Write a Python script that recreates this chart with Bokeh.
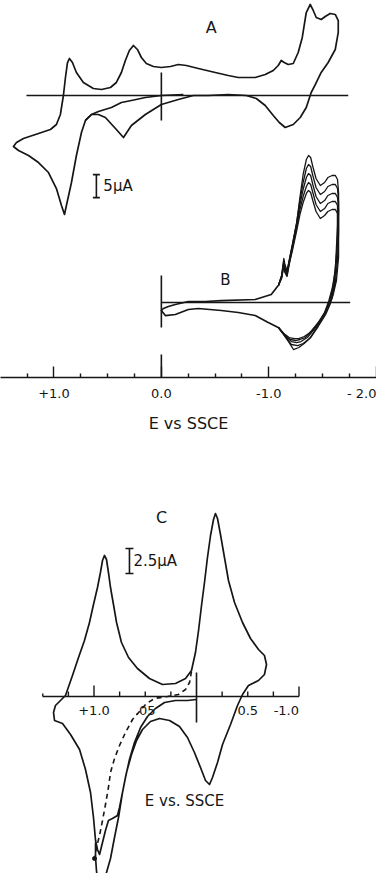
from bokeh.plotting import figure
from bokeh.models import Range1d, LinearAxis, FixedTicker
from bokeh.layouts import column
from bokeh.embed import file_html
from bokeh.resources import INLINE
from bokeh.core.properties import value

# ------------------------------------------------------------------
# DATA  (E in V vs SSCE, current in microampere; cathodic current up)
# ------------------------------------------------------------------
# Panel A : full cyclic voltammogram
A_loop_E = [-0.298, -0.158, 0.0, 0.149, 0.279, 0.353, 0.419, 0.521, 0.586, 0.651,
            0.707, 0.744, 0.791, 0.837, 0.884, 0.902, 0.930, 0.977, 1.051, 1.144,
            1.237, 1.330, 1.377, 1.349, 1.284, 1.144, 1.033, 0.977, 0.940, 0.912,
            0.893, 0.874, 0.856, 0.828, 0.791, 0.726, 0.633, 0.558, 0.474, 0.419,
            0.372, 0.335, 0.298, 0.260, 0.223, 0.186, 0.140, 0.074, 0.0, -0.084,
            -0.158, -0.233, -0.344, -0.502, -0.623, -0.716, -0.874, -0.967, -1.042, -1.088,
            -1.116, -1.144, -1.181, -1.228, -1.274, -1.312, -1.349, -1.386, -1.414, -1.442,
            -1.488, -1.526, -1.572, -1.619, -1.647, -1.647, -1.619, -1.553, -1.488, -1.433,
            -1.395, -1.349, -1.293, -1.228, -1.153, -1.098, -1.042, -0.967, -0.884, -0.791,
            -0.623, -0.437, -0.298]
A_loop_I = [0.0, -0.87, -1.96, -4.13, -6.52, -9.13, -7.39, -4.78, -4.13, -4.13,
            -5.43, -8.04, -13.04, -18.91, -23.91, -25.87, -23.91, -20.22, -16.74, -14.57,
            -13.04, -11.96, -11.09, -10.22, -9.35, -8.26, -7.39, -6.30, -4.13, 0.0,
            3.91, 7.17, 8.04, 7.17, 5.0, 2.83, 1.52, 1.30, 1.74, 2.83,
            5.0, 7.61, 9.78, 10.87, 10.0, 8.26, 6.96, 6.30, 6.09, 6.30,
            6.74, 6.52, 5.87, 5.0, 4.35, 3.91, 3.91, 4.57, 5.43, 6.52,
            7.61, 7.17, 6.74, 6.96, 9.35, 12.61, 18.04, 19.78, 18.48, 16.96,
            16.52, 17.17, 17.83, 17.61, 16.30, 13.70, 10.0, 7.17, 5.0, 2.39,
            0.65, -2.61, -4.78, -6.30, -6.96, -5.87, -4.35, -2.17, -0.65, 0.0,
            0.22, 0.0, 0.0]
A_inner_E = [-0.205, 0.0, 0.149, 0.279, 0.372, 0.465, 0.586, 0.651, 0.707]
A_inner_I = [0.22, 0.0, -0.43, -1.09, -1.52, -2.61, -3.48, -4.13, -5.43]
A_baseline_E = [1.256, -1.740]
A_zero_mark_I = [5.0, -5.43]

# Panel B : five successive scans
B_common_E = [-1.088, -0.995, -0.874, -0.716, -0.558, -0.344, -0.251, -0.130, -0.037, 0.0,
              -0.019, -0.065, -0.130, -0.251, -0.409, -0.558, -0.874, -1.023, -1.088]
B_common_I = [-5.43, -4.35, -2.83, -2.17, -1.74, -1.30, -1.52, -2.61, -2.83, -1.74,
              -1.30, -0.87, -0.43, 0.22, 0.22, 0.43, 0.65, 1.74, 3.70]
B_scan1_E = [-1.09, -1.12, -1.14, -1.15, -1.17, -1.19, -1.22, -1.26, -1.29, -1.32,
             -1.35, -1.37, -1.39, -1.41, -1.44, -1.48, -1.52, -1.55, -1.59, -1.62,
             -1.64, -1.65, -1.65, -1.65, -1.63, -1.60, -1.57, -1.53, -1.46, -1.39,
             -1.33, -1.28, -1.23, -1.19, -1.14, -1.09]
B_scan1_I = [3.70, 5.87, 9.57, 8.26, 6.96, 9.13, 12.61, 17.39, 22.83, 27.83,
             31.09, 31.96, 31.52, 29.57, 26.96, 25.43, 26.09, 27.17, 27.61, 27.61,
             26.74, 23.91, 16.30, 9.78, 4.78, 1.74, -0.43, -2.61, -5.22, -7.61,
             -8.91, -9.78, -10.22, -8.70, -6.96, -5.43]
B_scan2_E = [-1.09, -1.12, -1.14, -1.15, -1.17, -1.19, -1.22, -1.26, -1.29, -1.32,
             -1.35, -1.37, -1.39, -1.41, -1.44, -1.48, -1.52, -1.55, -1.59, -1.62,
             -1.64, -1.65, -1.65, -1.64, -1.62, -1.59, -1.55, -1.50, -1.44, -1.38,
             -1.32, -1.27, -1.21, -1.16, -1.09]
B_scan2_I = [3.70, 5.87, 9.13, 7.83, 6.52, 9.13, 12.61, 17.39, 22.17, 26.09,
             29.13, 30.00, 29.57, 27.61, 25.00, 23.48, 24.13, 25.22, 25.65, 25.65,
             24.78, 21.74, 15.22, 9.13, 4.35, 1.09, -1.30, -3.48, -5.65, -7.83,
             -8.91, -9.35, -9.13, -7.61, -5.43]
B_scan3_E = [-1.09, -1.12, -1.14, -1.15, -1.17, -1.19, -1.22, -1.26, -1.29, -1.32,
             -1.35, -1.37, -1.39, -1.41, -1.44, -1.48, -1.52, -1.55, -1.59, -1.62,
             -1.64, -1.65, -1.64, -1.63, -1.61, -1.58, -1.53, -1.48, -1.42, -1.36,
             -1.30, -1.26, -1.21, -1.16, -1.09]
B_scan3_I = [3.70, 5.65, 8.70, 7.39, 6.30, 8.70, 12.17, 16.96, 21.30, 24.57,
             27.17, 28.04, 27.61, 25.65, 23.04, 21.52, 22.17, 23.26, 23.70, 23.70,
             22.83, 20.00, 14.13, 8.70, 3.91, 0.87, -1.74, -3.91, -5.87, -7.61,
             -8.48, -8.70, -8.48, -7.39, -5.43]
B_scan4_E = [-1.09, -1.12, -1.14, -1.15, -1.17, -1.19, -1.22, -1.26, -1.29, -1.32,
             -1.35, -1.37, -1.39, -1.41, -1.44, -1.48, -1.52, -1.55, -1.59, -1.62,
             -1.64, -1.64, -1.64, -1.62, -1.60, -1.57, -1.53, -1.47, -1.40, -1.34,
             -1.29, -1.25, -1.20, -1.15, -1.09]
B_scan4_I = [3.70, 5.43, 8.26, 6.96, 5.87, 8.48, 11.74, 16.30, 20.22, 23.04,
             25.22, 26.09, 25.65, 23.91, 21.30, 19.78, 20.43, 21.52, 21.96, 21.96,
             21.09, 18.48, 13.04, 7.83, 3.48, 0.65, -1.96, -4.13, -6.09, -7.61,
             -8.04, -8.26, -8.04, -7.17, -5.43]
B_scan5_E = [-1.09, -1.12, -1.14, -1.15, -1.17, -1.19, -1.22, -1.26, -1.29, -1.32,
             -1.35, -1.37, -1.39, -1.41, -1.44, -1.48, -1.52, -1.55, -1.59, -1.62,
             -1.64, -1.64, -1.63, -1.62, -1.59, -1.56, -1.52, -1.46, -1.40, -1.33,
             -1.28, -1.24, -1.19, -1.14, -1.09]
B_scan5_I = [3.70, 5.22, 7.83, 6.52, 5.65, 8.26, 11.30, 15.65, 19.13, 21.74,
             23.70, 24.35, 23.91, 22.17, 19.78, 18.26, 18.91, 19.78, 20.22, 20.22,
             19.35, 16.96, 11.96, 6.96, 3.04, 0.43, -2.17, -4.35, -6.30, -7.39,
             -7.83, -7.83, -7.61, -6.74, -5.43]
B_baseline_E = [0.0, -1.758]
B_zero_mark_I = [5.87, -5.43]

# Potential axis shared by A and B
AB_major_ticks = [1.0, 0.0, -1.0, -2.0]
AB_minor_ticks = [1.5, 1.25, 0.75, 0.5, 0.25, -0.25, -0.5, -0.75, -1.25, -1.5, -1.75]
AB_tick_labels = ["+1.0", "0.0", "-1.0", "- 2.0"]

# Panel C
C_main_E = [0.0, 0.088, 0.205, 0.312, 0.400, 0.478, 0.546, 0.605, 0.654, 0.693,
            0.722, 0.751, 0.771, 0.820, 0.859, 0.888, 0.917, 0.946, 0.966, 0.985,
            1.005, 1.034, 1.083, 1.141, 1.229, 1.307, 1.385, 1.395, 1.376, 1.278,
            1.210, 1.151, 1.093, 1.044, 1.005, 0.966, 0.937, 0.917, 0.898, 0.878,
            0.859, 0.839, 0.810, 0.780, 0.732, 0.663, 0.576, 0.459, 0.332, 0.205,
            0.107, 0.049, 0.010, -0.020, -0.049, -0.078, -0.107, -0.137, -0.166, -0.185,
            -0.205, -0.234, -0.273, -0.312, -0.371, -0.449, -0.527, -0.605, -0.663, -0.683,
            -0.663, -0.605, -0.507, -0.449, -0.400, -0.332, -0.254, -0.205, -0.156, -0.127,
            -0.088, -0.039, 0.020, 0.088, 0.166, 0.263, 0.361, 0.449, 0.527, 0.585,
            0.634, 0.683, 0.722, 0.761, 0.800, 0.839, 0.878, 0.907]
C_main_I = [-0.3, -0.4, -0.4, -0.6, -1.2, -2.0, -3.1, -4.6, -6.3, -8.1,
            -9.6, -11.1, -11.9, -12.2, -12.4, -13.4, -14.6, -15.8, -15.3, -14.4,
            -12.1, -9.6, -7.3, -5.3, -3.8, -2.7, -2.4, -1.6, -0.9, 0.1,
            2.1, 3.9, 5.6, 7.4, 9.2, 10.9, 12.4, 13.6, 14.1, 13.7,
            12.4, 10.9, 9.2, 7.4, 5.4, 3.9, 2.8, 1.8, 1.2, 1.3,
            1.8, 2.6, 4.4, 6.6, 9.1, 11.4, 13.9, 16.1, 17.7, 18.3,
            17.8, 16.2, 13.9, 11.6, 9.4, 7.4, 5.8, 4.7, 4.1, 3.2,
            2.2, 1.6, 1.1, 0.2, -0.9, -2.8, -4.8, -6.6, -8.1, -8.8,
            -8.4, -7.1, -5.6, -4.1, -3.0, -2.4, -2.2, -2.5, -3.3, -4.4,
            -5.8, -7.6, -9.6, -12.1, -14.1, -16.2, -17.6, -19.1]
C_tail_E = [0.956, 0.976, 0.985, 0.985]
C_tail_I = [-19.1, -17.4, -16.1, -14.6]
C_dash_E = [0.049, 0.068, 0.107, 0.176, 0.283, 0.410, 0.488, 0.556, 0.624, 0.693,
            0.751, 0.800, 0.839, 0.859, 0.888, 0.917, 0.946, 0.976, 0.995]
C_dash_I = [2.5, 1.4, 0.7, 0.2, 0.0, -0.2, -0.7, -1.5, -2.3, -3.6,
            -4.9, -6.2, -7.6, -9.1, -10.8, -12.4, -13.9, -15.1, -16.2]
C_zero_mark_I = [2.4, -2.6]
C_ticks = [1.5, 1.25, 1.0, 0.75, 0.5, 0.25, -0.25, -0.5, -0.75, -1.0]
C_label_E = [1.0, 0.5, -0.5, -1.0]
C_labels = ["+1.0", ".05", "0.5", "-1.0"]

SCALE_A_UA = 5.0
SCALE_C_UA = 2.5

# ------------------------------------------------------------------
# STYLE
# ------------------------------------------------------------------
FONT = value("DejaVu Sans")
INK = "#161616"
LW = 1.7
AB_PX_PER_UA = 4.6     # pixel size of 1 uA in panels A/B
C_PX_PER_UA = 10.0     # pixel size of 1 uA in panel C

# ------------------------------------------------------------------
# TOP FIGURE : A and B on a common potential axis
# ------------------------------------------------------------------
p1 = figure(width=376, height=437,
            x_range=Range1d(1.4977, -2.003), y_range=Range1d(-16.30, 65.65),
            output_backend="svg", toolbar_location=None,
            x_axis_location=None, y_axis_location=None,
            min_border_left=0, min_border_right=0, min_border_top=0, min_border_bottom=60,
            outline_line_color=None, background_fill_color="white",
            border_fill_color="white")
p1.extra_y_ranges = {"A": Range1d(-61.30, 20.65)}
p1.grid.visible = False

# panel A
p1.line(A_baseline_E, [0, 0], y_range_name="A", line_color=INK, line_width=1.3)
p1.line([0, 0], A_zero_mark_I, y_range_name="A", line_color=INK, line_width=1.6)
p1.line(A_loop_E, A_loop_I, y_range_name="A", line_color=INK, line_width=LW,
        line_join="round")
p1.line(A_inner_E, A_inner_I, y_range_name="A", line_color=INK, line_width=LW,
        line_join="round")

# panel B
p1.line(B_baseline_E, [0, 0], line_color=INK, line_width=1.3)
p1.line([0, 0], B_zero_mark_I, line_color=INK, line_width=1.6)
p1.line(B_common_E, B_common_I, line_color=INK, line_width=LW, line_join="round")
for ex, iy in [(B_scan1_E, B_scan1_I), (B_scan2_E, B_scan2_I), (B_scan3_E, B_scan3_I),
               (B_scan4_E, B_scan4_I), (B_scan5_E, B_scan5_I)]:
    p1.line(ex, iy, line_color=INK, line_width=1.3, line_join="round")

# labels A / B and 5 uA bar
p1.text(x=[-0.465], y=[14.8], text=["A"], y_range_name="A", text_font=FONT,
        text_font_size="16px", text_align="center", text_baseline="middle", text_color=INK)
p1.text(x=[-0.595], y=[5.0], text=["B"], text_font=FONT,
        text_font_size="15px", text_align="center", text_baseline="middle", text_color=INK)
bar_top_A = -17.2
p1.segment(x0=[0.605], y0=[bar_top_A], x1=[0.605], y1=[bar_top_A - SCALE_A_UA],
           y_range_name="A", line_color=INK, line_width=1.6)
p1.scatter(x=[0.605, 0.605], y=[bar_top_A, bar_top_A - SCALE_A_UA], marker="dash",
           size=7, y_range_name="A", line_color=INK, line_width=1.6)
p1.text(x=[0.54], y=[bar_top_A - SCALE_A_UA / 2], text=["5\u00b5A"], y_range_name="A",
        text_font=FONT, text_font_size="15px", text_align="left",
        text_baseline="middle", text_color=INK)

# tall zero tick on the potential axis
p1.segment(x0=[0.0], y0=[-16.30], x1=[0.0], y1=[-16.30 + 23 / AB_PX_PER_UA],
           line_color=INK, line_width=1.6)

ax = LinearAxis(ticker=FixedTicker(ticks=AB_major_ticks, minor_ticks=AB_minor_ticks))
ax.major_label_overrides = {t: lab for t, lab in zip(AB_major_ticks, AB_tick_labels)}
ax.major_tick_in = 11
ax.major_tick_out = 0
ax.minor_tick_in = 4
ax.minor_tick_out = 0
ax.axis_line_color = INK
ax.axis_line_width = 1.4
ax.major_tick_line_color = INK
ax.major_tick_line_width = 1.4
ax.minor_tick_line_color = INK
ax.minor_tick_line_width = 1.4
ax.major_label_text_font = "DejaVu Sans"
ax.major_label_text_font_size = "13px"
ax.major_label_text_color = INK
ax.major_label_standoff = 8
ax.axis_label = "E vs SSCE"
ax.axis_label_text_font = "DejaVu Sans"
ax.axis_label_text_font_style = "normal"
ax.axis_label_text_font_size = "16px"
ax.axis_label_text_color = INK
ax.axis_label_standoff = 10
p1.add_layout(ax, "below")

# ------------------------------------------------------------------
# BOTTOM FIGURE : C with its own potential axis through the zero line
# ------------------------------------------------------------------
p2 = figure(width=376, height=436,
            x_range=Range1d(1.9122, -1.7561), y_range=Range1d(-17.7, 25.9),
            output_backend="svg", toolbar_location=None,
            x_axis_location=None, y_axis_location=None, min_border=0,
            outline_line_color=None, background_fill_color="white",
            border_fill_color="white")
p2.grid.visible = False

# axis line and ticks
p2.segment(x0=[C_ticks[0]], y0=[0], x1=[C_ticks[-1]], y1=[0], line_color=INK, line_width=1.4)
tick_px = []
for t in C_ticks:
    if t == 1.0:
        tick_px.append(11)
    elif t == C_ticks[-1]:
        tick_px.append(10)
    elif t == C_ticks[0]:
        tick_px.append(3)
    else:
        tick_px.append(5)
p2.segment(x0=C_ticks, y0=[0] * len(C_ticks), x1=C_ticks,
           y1=[px / C_PX_PER_UA for px in tick_px], line_color=INK, line_width=1.4)
p2.line([0, 0], C_zero_mark_I, line_color=INK, line_width=1.6)

p2.text(x=C_label_E[:-1], y=[-1.4] * (len(C_label_E) - 1), text=C_labels[:-1],
        text_font=FONT, text_font_size="13px", text_align="center",
        text_baseline="middle", text_color=INK)
p2.text(x=C_label_E[-1:], y=[-1.4], text=C_labels[-1:], text_font=FONT,
        text_font_size="13px", text_align="right", text_baseline="middle", text_color=INK)

# curves
p2.line(C_main_E, C_main_I, line_color=INK, line_width=LW, line_join="round")
p2.line(C_tail_E, C_tail_I, line_color=INK, line_width=LW, line_join="round")
p2.line(C_dash_E, C_dash_I, line_color=INK, line_width=1.6, line_dash="5 4")
p2.scatter(x=C_dash_E[-1:], y=C_dash_I[-1:], marker="circle", size=4,
           fill_color=INK, line_color=INK)

# labels and 2.5 uA bar
p2.text(x=[0.341], y=[17.9], text=["C"], text_font=FONT, text_font_size="16px",
        text_align="center", text_baseline="middle", text_color=INK)
bar_top_C = 14.8
p2.segment(x0=[0.654], y0=[bar_top_C], x1=[0.654], y1=[bar_top_C - SCALE_C_UA],
           line_color=INK, line_width=1.6)
p2.scatter(x=[0.654, 0.654], y=[bar_top_C, bar_top_C - SCALE_C_UA], marker="dash",
           size=8, line_color=INK, line_width=1.6)
p2.text(x=[0.615], y=[bar_top_C - SCALE_C_UA / 2], text=["2.5\u00b5A"], text_font=FONT,
        text_font_size="15px", text_align="left", text_baseline="middle", text_color=INK)
p2.text(x=[0.117], y=[-10.4], text=["E vs. SSCE"], text_font=FONT, text_font_size="15px",
        text_align="center", text_baseline="middle", text_color=INK)

layout = column(p1, p2, spacing=0)
open("out.html", "w").write(file_html(layout, INLINE, "Cyclic voltammograms"))
